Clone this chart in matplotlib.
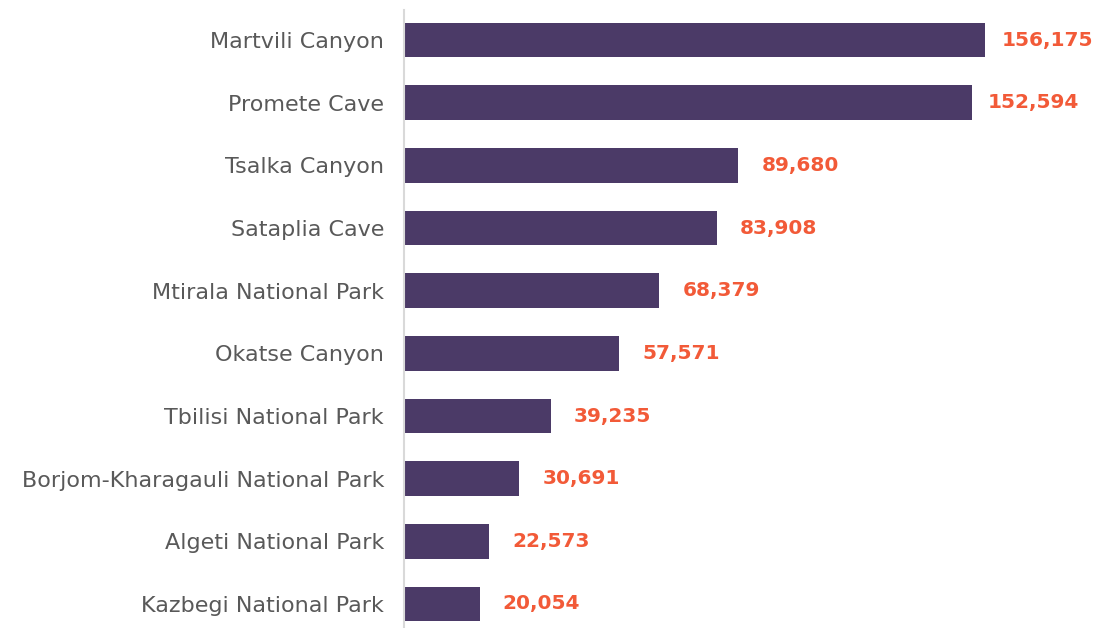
import matplotlib
matplotlib.use("Agg")
import matplotlib.pyplot as plt

categories = ["Martvili Canyon", "Promete Cave", "Tsalka Canyon", "Sataplia Cave",
              "Mtirala National Park", "Okatse Canyon", "Tbilisi National Park",
              "Borjom-Kharagauli National Park", "Algeti National Park", "Kazbegi National Park"]
values = [156175, 152594, 89680, 83908, 68379, 57571, 39235, 30691, 22573, 20054]

W, H = 1096, 628
fig = plt.figure(figsize=(W/100, H/100), dpi=100)
ax = fig.add_axes([404/W, 0, (1092-404)/W, (628-10)/H])

n = len(categories)
ypos = list(range(n-1, -1, -1))
ax.barh(ypos, values, height=0.55, color="#4b3a67", left=0)
xmax = (1092-405) / (580/156175)
ax.set_xlim(-300, xmax)
ax.set_ylim(-0.383, 9.479)
ax.set_yticks(ypos)
ax.set_yticklabels(categories)
ax.tick_params(axis="y", length=0, pad=14.4, labelsize=16, labelcolor="#595959")
for lbl in ax.get_yticklabels():
    lbl.set_y(lbl.get_position()[1])
ax.set_xticks([])
for s in ["top", "right", "bottom"]:
    ax.spines[s].set_visible(False)
ax.spines["left"].set_color("#d9d9d9")
ax.spines["left"].set_linewidth(1.5)
ax.spines["left"].set_position(("data", -300))

for y, v in zip(ypos, values):
    ax.annotate(f"{v:,}", xy=(v, y), xytext=(62, 0), textcoords="offset pixels",
                va="center", ha="center", fontsize=14.5, fontweight="bold", color="#f25a38")

fig.savefig("out.png", dpi=100)
